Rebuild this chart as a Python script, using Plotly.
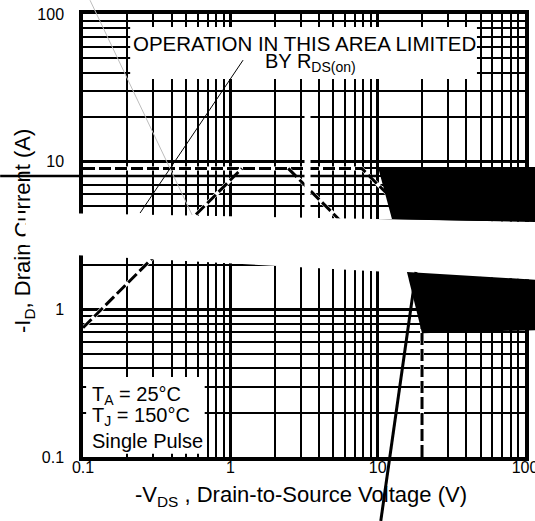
import math
import plotly.graph_objects as go

FONT = "Liberation Sans, Arial, Helvetica, sans-serif"

# ---- axis ticks ----
x_ticks = [0.1, 1, 10, 100]
x_tick_labels = ["0.1", "1", "10", "100"]
y_ticks = [0.1, 1, 10, 100]
y_tick_labels = ["0.1", "1", "10", "100"]
minor_ticks = [m * 10.0 ** e for e in (-1, 0, 1) for m in range(2, 10)]

# ---- SOA boundary curves (-V_DS in V, -I_D in A) ----
flat_v = [0.1, 7.8, 12.0]
flat_i = [9.0, 9.0, 5.85]
rds_v = [0.1, 1.2]
rds_i = [0.75, 9.0]
pulse_v = [2.47, 9.0]
pulse_i = [9.0, 2.47]
limit_v = [20.0, 20.0]
limit_i = [0.1, 1.1]

# ---- overlay artefacts (in V / A units) ----
note_box_v = [0.209, 47.2]
note_box_i = [36.3, 81.7]
legend_box_v = [0.105, 0.67]
legend_box_i = [0.105, 0.348]
band_v = [0.0274, 126, 126, 0.0274]
band_i = [4.56, 3.9, 1.58, 2.48]
slab_upper_v = [10.05, 126, 126, 12.5]
slab_upper_i = [9.2, 9.2, 3.9, 4.09]
slab_lower_v = [15.8, 126, 126, 20.0]
slab_lower_i = [1.79, 1.58, 0.724, 0.69]
streak_v = [18.2, 10.5]
streak_i = [1.79, 0.0369]
gray_v = [0.1116, 0.55]
gray_i = [124, 4.36]
pointer_v = [1.22, 0.244]
pointer_i = [48.7, 4.49]
rule8_v = [0.0274, 10.0]
rule8_i = [8.0, 8.0]

# plot frame in page pixels
PL, PR, PT, PB = 83, 525, 14, 457
W, H = 535, 521


def px_x(x):
    return (x - PL) / (PR - PL)


def px_y(y):
    return (PB - y) / (PB - PT)


def dom_x(v):
    return (math.log10(v) + 1) / 3


def dom_y(i):
    return (math.log10(i) + 1) / 3


fig = go.Figure()

for vs, cs in [(flat_v, flat_i), (rds_v, rds_i), (pulse_v, pulse_i), (limit_v, limit_i)]:
    fig.add_trace(go.Scatter(x=vs, y=cs, mode="lines",
                             line=dict(color="white", width=4), hoverinfo="skip"))
    fig.add_trace(go.Scatter(x=vs, y=cs, mode="lines",
                             line=dict(color="black", width=3, dash="12px,4px"), hoverinfo="skip"))

shapes = []


def rect(vs, cs, color="white"):
    shapes.append(dict(type="rect", xref="x domain", yref="y domain",
                       x0=dom_x(vs[0]), x1=dom_x(vs[1]), y0=dom_y(cs[0]), y1=dom_y(cs[1]),
                       fillcolor=color, line=dict(width=0), layer="above"))


def poly(vs, cs, color):
    path = "M " + " L ".join(f"{dom_x(v):.5f},{dom_y(c):.5f}" for v, c in zip(vs, cs)) + " Z"
    shapes.append(dict(type="path", xref="x domain", yref="y domain", path=path,
                       fillcolor=color, line=dict(width=0), layer="above"))


def seg(vs, cs, color, width):
    shapes.append(dict(type="line", xref="x domain", yref="y domain",
                       x0=dom_x(vs[0]), y0=dom_y(cs[0]), x1=dom_x(vs[1]), y1=dom_y(cs[1]),
                       line=dict(color=color, width=width), layer="above"))


rect(note_box_v, note_box_i)
rect(legend_box_v, legend_box_i)
seg(rule8_v, rule8_i, "black", 2.5)
seg(gray_v, gray_i, "#bdbdbd", 1)
seg(pointer_v, pointer_i, "black", 1)
poly(band_v, band_i, "white")
poly(slab_upper_v, slab_upper_i, "black")
poly(slab_lower_v, slab_lower_i, "black")
seg(streak_v, streak_i, "black", 3)

annotations = [
    dict(text="OPERATION IN THIS AREA LIMITED", x=px_x(304), y=px_y(43), xref="paper", yref="paper",
         showarrow=False, font=dict(size=20.5), xanchor="center", yanchor="middle"),
    dict(text="BY R<sub>DS(on)</sub>", x=px_x(310), y=px_y(62.5), xref="paper", yref="paper",
         showarrow=False, font=dict(size=20), xanchor="center", yanchor="middle"),
    dict(text="T<sub>A</sub> = 25°C", x=px_x(90), y=px_y(395), xref="paper", yref="paper",
         showarrow=False, font=dict(size=20), xanchor="left", yanchor="middle"),
    dict(text="T<sub>J</sub> = 150°C", x=px_x(90), y=px_y(416), xref="paper", yref="paper",
         showarrow=False, font=dict(size=20), xanchor="left", yanchor="middle"),
    dict(text="Single Pulse", x=px_x(90), y=px_y(441), xref="paper", yref="paper",
         showarrow=False, font=dict(size=20), xanchor="left", yanchor="middle"),
    dict(text="-V<sub>DS</sub> , Drain-to-Source Voltage (V)", x=px_x(301), y=px_y(496),
         xref="paper", yref="paper", showarrow=False, font=dict(size=22),
         xanchor="center", yanchor="middle"),
    dict(text="-I<sub>D</sub>, Drain Current (A)", x=px_x(24), y=px_y(231), xref="paper", yref="paper",
         showarrow=False, font=dict(size=22), textangle=-90, xanchor="center", yanchor="middle"),
    # white cut-outs
    dict(text=" ", x=px_x(307.5), y=px_y(95), xref="paper", yref="paper", showarrow=False,
         width=5, height=190, bgcolor="white", borderpad=0, font=dict(size=4)),
    dict(text=" ", x=px_x(25), y=px_y(227.5), xref="paper", yref="paper", showarrow=False,
         width=46, height=35, bgcolor="white", borderpad=0, font=dict(size=4)),
]

axis_common = dict(
    type="log", range=[-1, 2], showgrid=True, gridcolor="black", gridwidth=2.5,
    minor=dict(tickvals=minor_ticks, showgrid=True, gridcolor="black", gridwidth=1.5, ticks=""),
    showline=True, linecolor="black", linewidth=3.5, mirror=True, ticks="",
    zeroline=False, automargin=False, tickfont=dict(size=16, color="black"),
    ticklabeloverflow="allow",
)

fig.update_xaxes(tickvals=x_ticks, ticktext=x_tick_labels, ticklabelstandoff=-7, **axis_common)
fig.update_yaxes(tickvals=y_ticks, ticktext=y_tick_labels, ticklabelstandoff=12, **axis_common)

fig.update_layout(
    width=W, height=H,
    margin=dict(l=PL, r=W - PR, t=PT, b=H - PB, pad=0),
    paper_bgcolor="white", plot_bgcolor="white", showlegend=False,
    font=dict(family=FONT, size=16, color="black"),
    shapes=shapes, annotations=annotations,
)

fig.write_html("out.html", config={"displayModeBar": False},
               post_script="document.body.style.margin='0px';")
